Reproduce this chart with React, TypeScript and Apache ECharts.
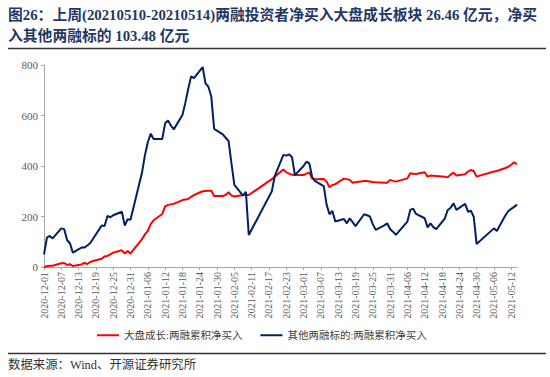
import React, { useEffect, useRef } from "react";
import * as echarts from "echarts";

const titleLine1 = "图26：上周(20210510-20210514)两融投资者净买入大盘成长板块 26.46 亿元，净买";
const titleLine2 = "入其他两融标的 103.48 亿元";
const sourceText = "数据来源：Wind、开源证券研究所";
const seriesNames = ["大盘成长:两融累积净买入", "其他两融标的:两融累积净买入"];

const axisStart = "2020-12-01";
const axisEnd = "2021-05-14";
const yTicks = [0, 200, 400, 600, 800];

const tradingDates = [
  "2020-12-01", "2020-12-02", "2020-12-03", "2020-12-04", "2020-12-07", "2020-12-08", "2020-12-09", "2020-12-10", "2020-12-11",
  "2020-12-14", "2020-12-15", "2020-12-16", "2020-12-17", "2020-12-18", "2020-12-21", "2020-12-22", "2020-12-23", "2020-12-24",
  "2020-12-25", "2020-12-28", "2020-12-29", "2020-12-30", "2020-12-31",
  "2021-01-04", "2021-01-05", "2021-01-06", "2021-01-07", "2021-01-08", "2021-01-11", "2021-01-12", "2021-01-13", "2021-01-14",
  "2021-01-15", "2021-01-18", "2021-01-19", "2021-01-20", "2021-01-21", "2021-01-22", "2021-01-25", "2021-01-26", "2021-01-27",
  "2021-01-28", "2021-01-29",
  "2021-02-01", "2021-02-02", "2021-02-03", "2021-02-04", "2021-02-05", "2021-02-08", "2021-02-09", "2021-02-10", "2021-02-18",
  "2021-02-19", "2021-02-22", "2021-02-23", "2021-02-24", "2021-02-25", "2021-02-26",
  "2021-03-01", "2021-03-02", "2021-03-03", "2021-03-04", "2021-03-05", "2021-03-08", "2021-03-09", "2021-03-10", "2021-03-11",
  "2021-03-12", "2021-03-15", "2021-03-16", "2021-03-17", "2021-03-18", "2021-03-19", "2021-03-22", "2021-03-23", "2021-03-24",
  "2021-03-25", "2021-03-26", "2021-03-29", "2021-03-30", "2021-03-31",
  "2021-04-01", "2021-04-02", "2021-04-06", "2021-04-07", "2021-04-08", "2021-04-09", "2021-04-12", "2021-04-13", "2021-04-14",
  "2021-04-15", "2021-04-16", "2021-04-19", "2021-04-20", "2021-04-21", "2021-04-22", "2021-04-23", "2021-04-26", "2021-04-27",
  "2021-04-28", "2021-04-29", "2021-04-30",
  "2021-05-06", "2021-05-07", "2021-05-10", "2021-05-11", "2021-05-12", "2021-05-13", "2021-05-14",
];

const bigCapGrowth = [
  0, 3, 5, 5, 15, 16, 8, 11, 4,
  10, 16, 12, 20, 24, 33, 42, 44, 50,
  57, 66, 53, 63, 54,
  110, 130, 143, 170, 185, 210, 240, 246, 248,
  250, 265, 267, 269, 278, 285, 300, 301, 302,
  302, 281,
  281, 285, 296, 283, 279, 285, 285, 285, 348,
  358, 386, 375, 370, 365, 364,
  364, 370, 374, 350, 348, 349, 338, 316, 325,
  328, 350, 348, 345, 334, 336, 341, 341, 339,
  337, 336, 334, 334, 345,
  341, 338, 351, 371, 369, 368, 375, 358, 362,
  361, 360, 357, 355, 366, 374, 362, 367, 378,
  384, 380, 358,
  378, 380, 392, 397, 405, 415, 407,
];

const otherTargets = [
  50, 116, 123, 113, 153, 150, 107, 94, 57,
  77, 77, 85, 94, 112, 164, 162, 202, 197,
  205, 219, 164, 189, 187,
  375, 443, 494, 528, 507, 507, 569, 580, 560,
  545, 602, 650, 705, 755, 748, 792, 727, 714,
  675, 547,
  525, 512, 499, 410, 325, 283, 298, 127, 300,
  360, 444, 441, 446, 435, 364,
  400, 417, 410, 355, 340, 320, 246, 209, 222,
  180, 190, 173, 193, 178, 162, 209, 205, 200,
  170, 147, 165, 173, 150,
  140, 127, 180, 226, 231, 210, 193, 157, 173,
  158, 150, 193, 226, 235, 252, 226, 250, 219,
  223, 199, 91,
  153, 143, 205, 222, 230, 238, 247,
];

function buildCalendar(start: string, end: string): string[] {
  const out: string[] = [];
  const d = new Date(start + "T00:00:00Z");
  const e = new Date(end + "T00:00:00Z");
  while (d.getTime() <= e.getTime()) {
    out.push(d.toISOString().slice(0, 10));
    d.setUTCDate(d.getUTCDate() + 1);
  }
  return out;
}

const SERIF = '"Liberation Serif", "Times New Roman", "Noto Sans CJK SC", serif';
const CJK = '"Liberation Serif", "Noto Sans CJK SC", sans-serif';

export default function App() {
  const ref = useRef<HTMLDivElement>(null);
  useEffect(() => {
    if (!ref.current) return;
    const chart = echarts.init(ref.current, null, { renderer: "svg" });
    const categories = buildCalendar(axisStart, axisEnd);
    const redData = tradingDates.map((d, i) => [d, bigCapGrowth[i]]);
    const blueData = tradingDates.map((d, i) => [d, otherTargets[i]]);
    chart.setOption({
      animation: false,
      backgroundColor: "#ffffff",
      grid: { left: 44, right: 33, top: 65, bottom: 110, containLabel: false },
      legend: {
        left: 92,
        top: 325,
        icon: "rect",
        itemWidth: 22,
        itemHeight: 2,
        itemGap: 18,
        textStyle: { fontSize: 10.5, color: "#404040", fontFamily: CJK },
        data: seriesNames,
      },
      xAxis: {
        type: "category",
        data: categories,
        boundaryGap: false,
        axisLine: { lineStyle: { color: "#a6a6a6", width: 1 } },
        axisTick: { interval: 5, length: 3, lineStyle: { color: "#a6a6a6" } },
        axisLabel: {
          interval: 5,
          rotate: 90,
          fontSize: 10,
          color: "#595959",
          fontFamily: SERIF,
          margin: 5,
        },
        splitLine: { show: false },
      },
      yAxis: {
        type: "value",
        min: 0,
        max: 800,
        interval: 200,
        axisLine: { show: true, lineStyle: { color: "#a6a6a6", width: 1 } },
        axisTick: { show: true, length: 3, lineStyle: { color: "#a6a6a6" } },
        axisLabel: {
          fontSize: 11,
          color: "#595959",
          fontFamily: SERIF,
          margin: 6,
          formatter: (v: number) => (yTicks.includes(v) ? String(v) : ""),
        },
        splitLine: { show: false },
      },
      series: [
        {
          name: seriesNames[0],
          type: "line",
          data: redData,
          showSymbol: false,
          symbol: "none",
          lineStyle: { color: "#ff0000", width: 2 },
          itemStyle: { color: "#ff0000" },
        },
        {
          name: seriesNames[1],
          type: "line",
          data: blueData,
          showSymbol: false,
          symbol: "none",
          lineStyle: { color: "#002060", width: 2 },
          itemStyle: { color: "#002060" },
        },
      ],
      graphic: [
        {
          type: "text",
          left: 8,
          top: 8,
          style: { text: titleLine1, fontSize: 14.8, fontWeight: "bold", fontFamily: CJK, fill: "#1f3864" },
        },
        {
          type: "text",
          left: 8,
          top: 29,
          style: { text: titleLine2, fontSize: 14.8, fontWeight: "bold", fontFamily: CJK, fill: "#1f3864" },
        },
        {
          type: "line",
          shape: { x1: 8, y1: 48.5, x2: 546, y2: 48.5 },
          style: { stroke: "#333333", lineWidth: 1.5 },
        },
        {
          type: "line",
          shape: { x1: 8, y1: 353.5, x2: 546, y2: 353.5 },
          style: { stroke: "#333333", lineWidth: 1.5 },
        },
        {
          type: "text",
          left: 8,
          top: 359,
          style: { text: sourceText, fontSize: 12.4, fontFamily: CJK, fill: "#333333" },
        },
      ],
    });
    return () => chart.dispose();
  }, []);
  return (
    <div
      ref={ref}
      style={{ position: "fixed", left: 0, top: 0, width: 550, height: 377, background: "#fff" }}
    />
  );
}
